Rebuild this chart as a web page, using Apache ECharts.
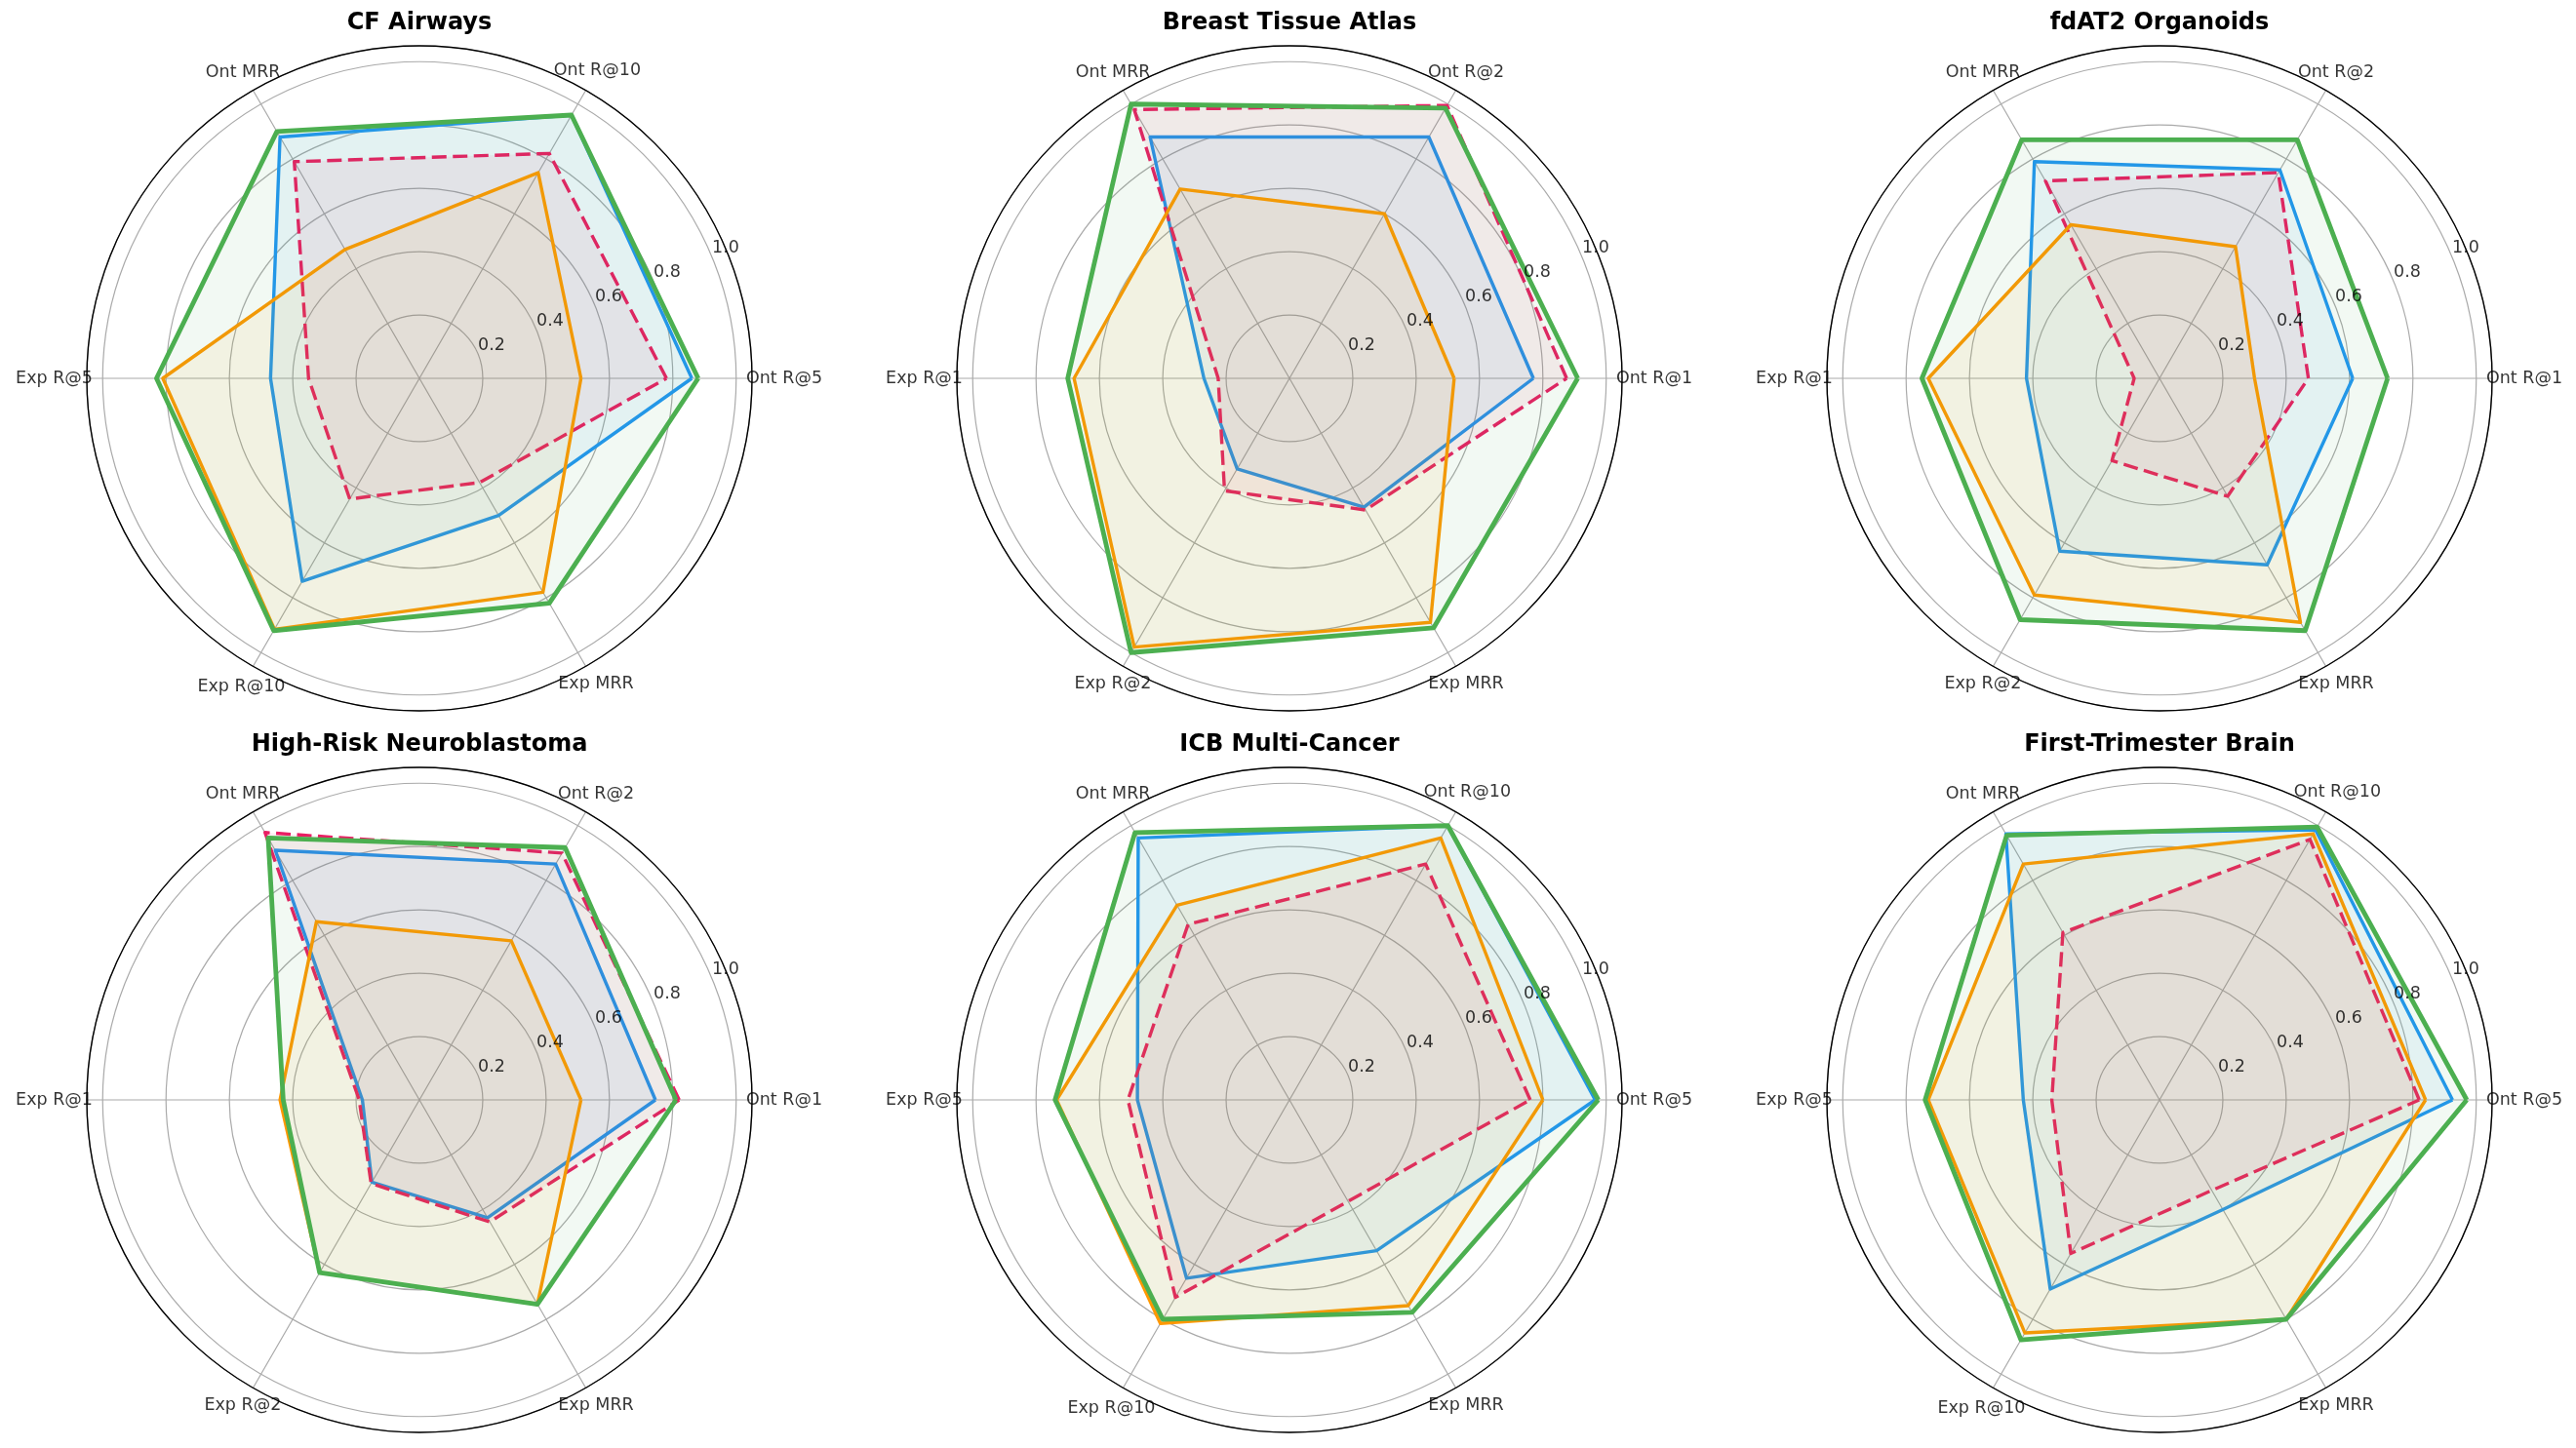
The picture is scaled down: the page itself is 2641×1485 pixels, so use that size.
<!DOCTYPE html>
<html>
<head>
<meta charset="utf-8">
<script src="https://cdn.jsdelivr.net/npm/echarts@6/dist/echarts.min.js"></script>
<style>
html,body{margin:0;padding:0;background:#fff;}
#chart{width:2641px;height:1485px;}
</style>
</head>
<body>
<div id="chart"></div>
<script>
// ---------- data ----------
const chartTitles = ['CF Airways', 'Breast Tissue Atlas', 'fdAT2 Organoids',
                     'High-Risk Neuroblastoma', 'ICB Multi-Cancer', 'First-Trimester Brain'];
const metricsK5 = ['Ont R@5', 'Ont R@10', 'Ont MRR', 'Exp R@5', 'Exp R@10', 'Exp MRR'];
const metricsK1 = ['Ont R@1', 'Ont R@2', 'Ont MRR', 'Exp R@1', 'Exp R@2', 'Exp MRR'];
const chartMetrics = [metricsK5, metricsK1, metricsK1, metricsK1, metricsK5, metricsK5];
const radialTicks = [0.2, 0.4, 0.6, 0.8, 1.0];

const blueValues = [
  [0.86, 0.96, 0.88, 0.47, 0.74, 0.50],
  [0.77, 0.88, 0.88, 0.27, 0.33, 0.47],
  [0.61, 0.76, 0.79, 0.42, 0.63, 0.68],
  [0.745, 0.86, 0.91, 0.18, 0.30, 0.43],
  [0.965, 1.00, 0.955, 0.48, 0.65, 0.55],
  [0.925, 0.985, 0.97, 0.43, 0.69, 0.40]
];
const orangeValues = [
  [0.51, 0.75, 0.47, 0.81, 0.915, 0.78],
  [0.52, 0.60, 0.69, 0.68, 0.98, 0.89],
  [0.30, 0.48, 0.56, 0.73, 0.79, 0.89],
  [0.51, 0.58, 0.65, 0.44, 0.63, 0.745],
  [0.80, 0.955, 0.71, 0.735, 0.815, 0.75],
  [0.84, 0.97, 0.86, 0.73, 0.85, 0.80]
];
const pinkValues = [
  [0.78, 0.82, 0.79, 0.35, 0.44, 0.38],
  [0.875, 0.995, 0.98, 0.225, 0.41, 0.48],
  [0.47, 0.75, 0.72, 0.08, 0.30, 0.43],
  [0.82, 0.90, 0.975, 0.19, 0.305, 0.445],
  [0.76, 0.86, 0.64, 0.51, 0.72, 0.37],
  [0.82, 0.95, 0.61, 0.34, 0.56, 0.33]
];
const greenValues = [
  [0.88, 0.96, 0.90, 0.83, 0.92, 0.82],
  [0.91, 0.985, 1.00, 0.70, 1.00, 0.91],
  [0.72, 0.87, 0.87, 0.75, 0.88, 0.92],
  [0.81, 0.92, 0.955, 0.43, 0.63, 0.745],
  [0.975, 1.00, 0.975, 0.74, 0.80, 0.775],
  [0.97, 0.995, 0.965, 0.74, 0.875, 0.80]
];

// ---------- layout / style ----------
const FONT = 'DejaVu Sans';
const LABEL_SIZE = 17.5;
const colX = [430, 1322, 2214];
const rowY = [388, 1128];
const RADIUS = 341;
const R_MAX = 1.05;
const LABEL_GAP_PX = 335;   // distance of the label box's nearest edge from the centre
const TICK_ANGLE = 22.5;
const STEP = 60;
const GRID = '#aaaaaa';

const seriesStyles = [
  {values: blueValues,   color: '#2196F3', width: 3.4, type: 'solid', z: 3},
  {values: pinkValues,   color: '#E91E63', width: 3.4, type: [15, 6.5], z: 4},
  {values: orangeValues, color: '#FF9800', width: 3.4, type: 'solid', z: 5},
  {values: greenValues,  color: '#4CAF50', width: 4.8, type: 'solid', z: 6}
];

const measureCtx = document.createElement('canvas').getContext('2d');
measureCtx.font = LABEL_SIZE + 'px "' + FONT + '"';
function labelRadius(text, angleDeg) {
  const a = angleDeg * Math.PI / 180;
  const w = measureCtx.measureText(text).width;
  const px = LABEL_GAP_PX + (w / 2) * Math.abs(Math.cos(a)) + (LABEL_SIZE / 2) * Math.abs(Math.sin(a));
  return px / RADIUS * R_MAX;
}

function closedPolygon(vals) {
  const pts = vals.map((v, k) => [v, k * STEP]);
  pts.push([vals[0], vals.length * STEP]);
  return pts;
}

const polar = [], angleAxis = [], radiusAxis = [], series = [], title = [];
chartTitles.forEach((name, i) => {
  const cx = colX[i % 3], cy = rowY[Math.floor(i / 3)];
  polar.push({center: [cx, cy], radius: RADIUS});
  angleAxis.push({
    polarIndex: i, type: 'value', min: 0, max: 360, interval: STEP,
    startAngle: 0, clockwise: false, z: 1,
    axisLine: {show: true, lineStyle: {color: '#000', width: 1.4}},
    axisTick: {show: false}, axisLabel: {show: false},
    splitLine: {show: true, lineStyle: {color: GRID, width: 1.2}}
  });
  radiusAxis.push({
    polarIndex: i, type: 'value', min: 0, max: R_MAX, interval: 0.2, z: 0,
    axisLine: {show: false}, axisTick: {show: false}, axisLabel: {show: false},
    splitLine: {show: true, lineStyle: {color: GRID, width: 1.2}}
  });
  title.push({
    text: name, left: cx, top: cy - 376, textAlign: 'center', padding: 0,
    textStyle: {fontFamily: FONT, fontWeight: 'bold', fontSize: 24, color: '#000'}
  });
  seriesStyles.forEach(s => {
    series.push({
      type: 'line', coordinateSystem: 'polar', polarIndex: i,
      data: closedPolygon(s.values[i]), symbol: 'none', smooth: false,
      lineStyle: {color: s.color, width: s.width, type: s.type, join: 'round'},
      areaStyle: {color: s.color, opacity: 0.07},
      z: s.z, animation: false, silent: true
    });
  });
  series.push({
    type: 'scatter', coordinateSystem: 'polar', polarIndex: i, clip: false, silent: true,
    data: chartMetrics[i].map((m, k) => ({value: [labelRadius(m, k * STEP), k * STEP], name: m})),
    symbolSize: 1, itemStyle: {color: 'rgba(0,0,0,0)'}, z: 7, animation: false,
    label: {show: true, position: 'inside', formatter: '{b}', color: '#000',
            fontFamily: FONT, fontSize: LABEL_SIZE, align: 'center', verticalAlign: 'middle'}
  });
  series.push({
    type: 'scatter', coordinateSystem: 'polar', polarIndex: i, clip: false, silent: true,
    data: radialTicks.map(v => ({value: [v, TICK_ANGLE], name: v.toFixed(1)})),
    symbolSize: 1, itemStyle: {color: 'rgba(0,0,0,0)'}, z: 7, animation: false,
    label: {show: true, position: 'inside', formatter: '{b}', color: '#000',
            fontFamily: FONT, fontSize: LABEL_SIZE, align: 'left', verticalAlign: 'bottom'}
  });
});

const chart = echarts.init(document.getElementById('chart'), null, {renderer: 'canvas'});
chart.setOption({
  backgroundColor: '#fff',
  animation: false,
  title, polar, angleAxis, radiusAxis, series
});
</script>
</body>
</html>
